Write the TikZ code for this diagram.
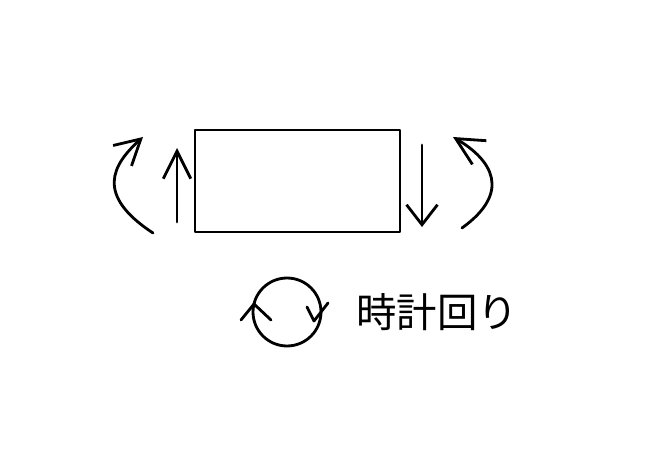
\documentclass[tikz,border=0pt]{standalone}
\usepackage{fontspec}
\newfontfamily\jpfont{Noto Sans CJK JP}
\usetikzlibrary{arrows.meta}

\begin{document}
\begin{tikzpicture}[x=0.02cm, y=-0.02cm, line width=1.6pt, line cap=round, line join=round,
        barb/.style={-{Straight Barb[length=#1, width=0.55cm, line width=1.6pt]}}]
        \useasboundingbox (0,0) rectangle (662,452);

        % Box
        \draw (195,130) rectangle (400,232);

        % Left side
        \draw[barb=0.55cm] (177,222) -- (177,148);
        \draw[barb=0.5cm] (153,233) .. controls (95,195) and (112,165) .. (143,137);

        % Right side
        \draw[-{Straight Barb[length=0.4cm, width=0.62cm, line width=1.6pt]}] (422,145) -- (422,227);
        \draw[barb=0.55cm] (462,228) .. controls (512,192) and (492,160) .. (453,137);

        % Legend
        \draw (287,312) circle[radius=0.68cm];
        \draw (241,320) -- (254,304) -- (271,320);
        \draw (307,307) -- (314,321) -- (328,303);
        \node[font=\jpfont\fontsize{23}{23}\selectfont] at (437,312) {時計回り};

    \end{tikzpicture}
\end{document}
